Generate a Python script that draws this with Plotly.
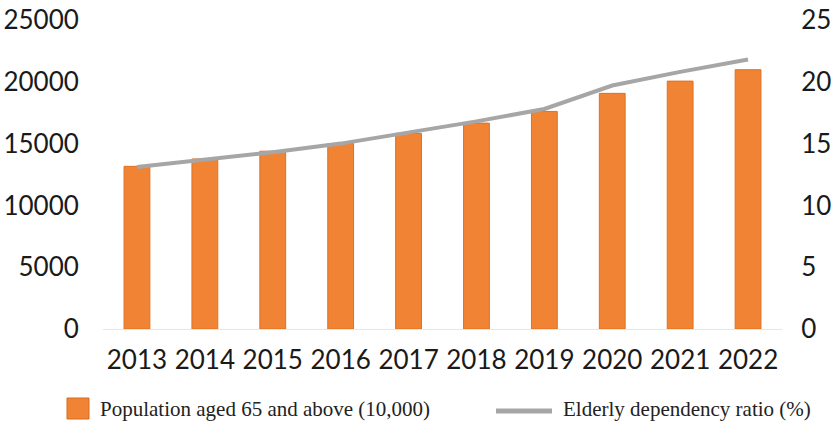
import plotly.graph_objects as go

years = ["2013", "2014", "2015", "2016", "2017", "2018", "2019", "2020", "2021", "2022"]
population_65 = [13161, 13755, 14386, 15003, 15831, 16658, 17603, 19064, 20056, 20978]
dependency_ratio = [13.1, 13.7, 14.3, 15.0, 15.9, 16.8, 17.8, 19.7, 20.8, 21.8]
left_ticks = [0, 5000, 10000, 15000, 20000, 25000]
right_ticks = [0, 5, 10, 15, 20, 25]
bar_name = "Population aged 65 and above (10,000)"
line_name = "Elderly dependency ratio (%)"

BAR_COLOR = "#F08434"
LINE_COLOR = "#A6A6A6"

W, H = 831, 426
L, R, T, B = 103, 49, 20, 97
pw, ph = W - L - R, H - T - B


def px(x):
    return (x - L) / pw


def py(y):
    return (H - B - y) / ph


fig = go.Figure()
fig.add_trace(go.Bar(
    x=years, y=population_65, name=bar_name,
    marker=dict(color=BAR_COLOR, line=dict(color="#E07020", width=1)),
    width=0.38,
))
fig.add_trace(go.Scatter(
    x=years, y=dependency_ratio, name=line_name,
    yaxis="y2", mode="lines", line=dict(color=LINE_COLOR, width=4),
))

axis_font = dict(family="Lato, Open Sans, sans-serif", size=26, color="#1a1a1a")
legend_font = dict(family="Liberation Serif, serif", size=21, color="#222")

fig.update_layout(
    width=W, height=H,
    margin=dict(l=L, r=R, t=T, b=B, autoexpand=False),
    paper_bgcolor="white", plot_bgcolor="white",
    showlegend=False,
    xaxis=dict(tickfont=axis_font, showgrid=False, showline=True, linecolor="#E6E6E6",
               linewidth=1, ticks="outside", ticklen=8, tickcolor="white"),
    yaxis=dict(range=[0, 25000], tickvals=left_ticks, ticktext=[str(v) for v in left_ticks],
               tickfont=axis_font, showgrid=False, zeroline=False,
               ticks="outside", ticklen=18, tickcolor="white"),
    yaxis2=dict(range=[0, 25], tickvals=right_ticks, ticktext=[str(v) for v in right_ticks],
                tickfont=axis_font, overlaying="y", side="right", showgrid=False,
                zeroline=False, ticks="outside", ticklen=13, tickcolor="white"),
    shapes=[
        dict(type="rect", xref="paper", yref="paper",
             x0=px(67), x1=px(89), y0=py(419), y1=py(398),
             fillcolor=BAR_COLOR, line=dict(color="#D86A1E", width=1)),
        dict(type="line", xref="paper", yref="paper",
             x0=px(496), x1=px(552), y0=py(411), y1=py(411),
             line=dict(color=LINE_COLOR, width=5)),
    ],
    annotations=[
        dict(text=bar_name, xref="paper", yref="paper", x=px(98), y=py(409),
             xanchor="left", yanchor="middle", showarrow=False, font=legend_font),
        dict(text=line_name, xref="paper", yref="paper", x=px(561), y=py(409),
             xanchor="left", yanchor="middle", showarrow=False, font=legend_font),
    ],
)
fig.write_html("out.html")
